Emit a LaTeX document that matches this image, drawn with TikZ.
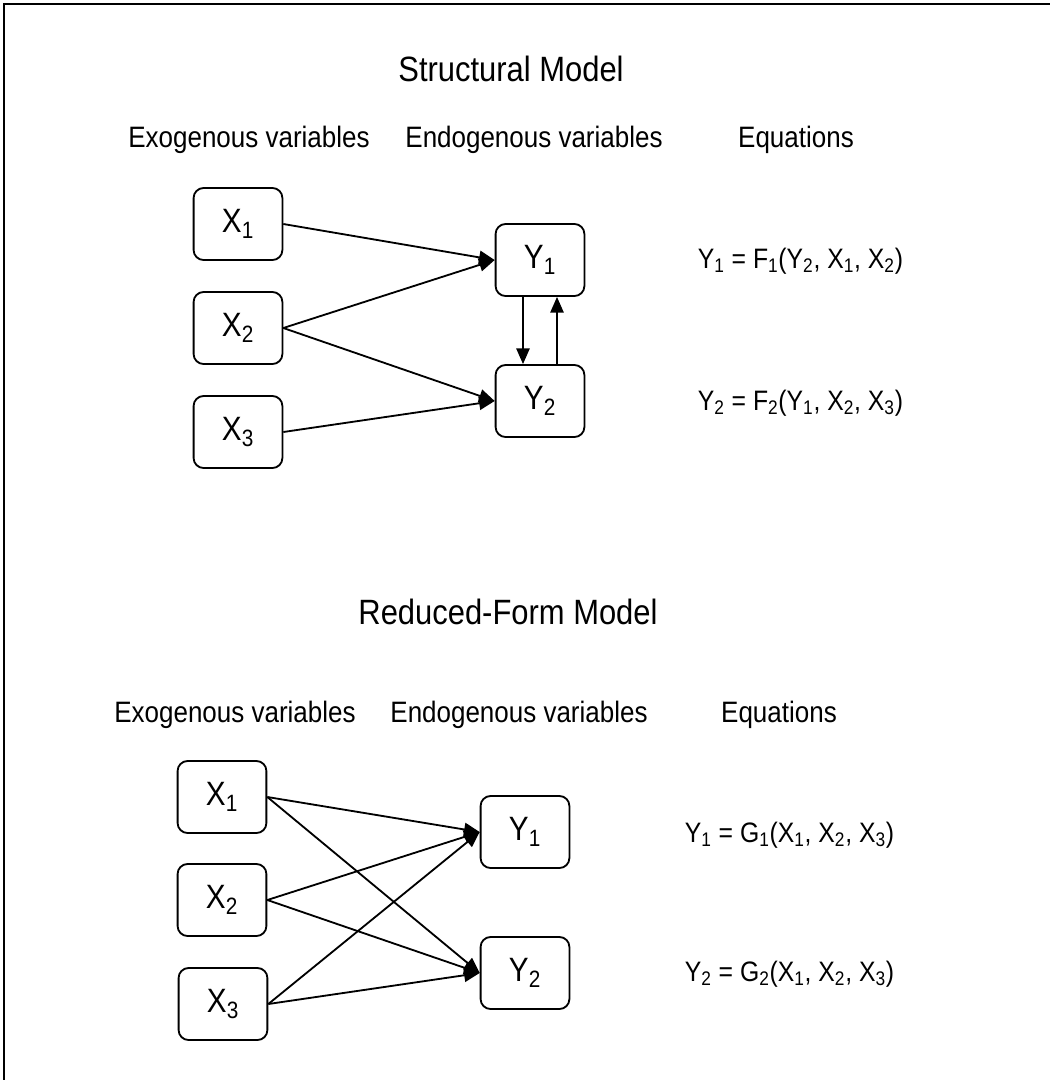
\documentclass[tikz,border=0pt]{standalone}
\usepackage{fontspec}
\setmainfont{Liberation Sans}[FakeStretch=0.88]
\usetikzlibrary{arrows.meta}

\tikzset{
  var/.style={draw, line width=1.3pt, rounded corners=2.5mm, inner sep=0pt,
    minimum width=2.22cm, minimum height=1.8cm, font=\fontsize{24}{28}\selectfont},
  head/.style={anchor=base, font=\fontsize{21}{25}\selectfont},
  ttl/.style={anchor=base, font=\fontsize{25}{30}\selectfont},
  eqn/.style={anchor=base west, font=\fontsize{20}{24}\selectfont},
  arr/.style={line width=1.3pt, -{Triangle[length=3.9mm,width=3.3mm]}}
}
\newcommand{\sub}[1]{\textsubscript{#1}}

\begin{document}
\begin{tikzpicture}[x=0.025cm,y=-0.025cm]
      \useasboundingbox (0,0) rectangle (1050,1080);
      \draw[line width=1.3pt] (4,1080) -- (4,4) -- (1050,4);

      % structural model
      \node[ttl] (st) at (511,81) {Structural Model};
      \node[head] (sexo) at (249,147) {Exogenous variables};
      \node[head] (sendo) at (534,147) {Endogenous variables};
      \node[head] (seq) at (796,147) {Equations};
      \node[var] (sx1) at (238,224) {X\sub{1}};
      \node[var] (sx2) at (238,328) {X\sub{2}};
      \node[var] (sx3) at (238,432) {X\sub{3}};
      \node[var] (sy1) at (540,260) {Y\sub{1}};
      \node[var] (sy2) at (540,401) {Y\sub{2}};
      \node[eqn] (seq1) at (693,268) {Y\sub{1} = F\sub{1}(Y\sub{2}, X\sub{1}, X\sub{2})};
      \node[eqn] (seq2) at (693,410) {Y\sub{2} = F\sub{2}(Y\sub{1}, X\sub{2}, X\sub{3})};
      \draw[arr] (sx1.east) -- (sy1.west);
      \draw[arr] (sx2.east) -- (sy1.west);
      \draw[arr] (sx2.east) -- (sy2.west);
      \draw[arr] (sx3.east) -- (sy2.west);
      \draw[arr] ([xshift=-4.25mm]sy1.south) -- ([xshift=-4.25mm]sy2.north);
      \draw[arr] ([xshift=4.25mm]sy2.north) -- ([xshift=4.25mm]sy1.south);

      % reduced-form model
      \node[ttl] (rt) at (508,624) {Reduced-Form Model};
      \node[head] (rexo) at (235,722) {Exogenous variables};
      \node[head] (rendo) at (519,722) {Endogenous variables};
      \node[head] (req) at (779,722) {Equations};
      \node[var] (rx1) at (222,797) {X\sub{1}};
      \node[var] (rx2) at (222,900) {X\sub{2}};
      \node[var] (rx3) at (223,1004) {X\sub{3}};
      \node[var] (ry1) at (525,832) {Y\sub{1}};
      \node[var] (ry2) at (525,973) {Y\sub{2}};
      \node[eqn] (req1) at (680,842) {Y\sub{1} = G\sub{1}(X\sub{1}, X\sub{2}, X\sub{3})};
      \node[eqn] (req2) at (680,981) {Y\sub{2} = G\sub{2}(X\sub{1}, X\sub{2}, X\sub{3})};
      \foreach \i in {1,2,3} {
        \draw[arr] (rx\i.east) -- (ry1.west);
        \draw[arr] (rx\i.east) -- (ry2.west);
      }
\end{tikzpicture}
\end{document}
